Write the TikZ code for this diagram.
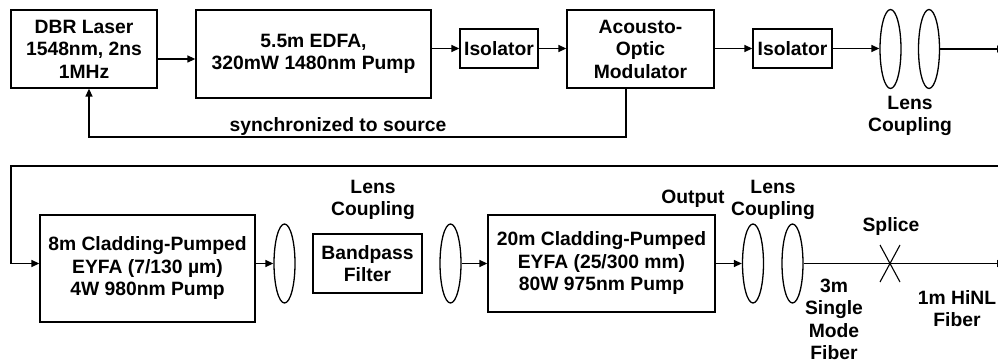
\documentclass[tikz,border=0pt]{standalone}
\usepackage{fontspec}
\setmainfont{Liberation Sans}
\usetikzlibrary{arrows.meta,shapes.geometric}
\begin{document}
\begin{tikzpicture}[x=1pt,y=-1pt,
  every node/.style={font=\fontsize{19.3}{22.5}\selectfont\bfseries, align=center, inner sep=0pt},
  box/.style={draw, line width=1.3pt, rectangle},
  lens/.style={draw, line width=1.3pt, ellipse, minimum width=21pt, minimum height=79pt},
  arr/.style={line width=1.3pt, -{Triangle[length=8pt,width=7pt]}},
  ln/.style={line width=1.3pt}]
\clip (0,0) rectangle (998,363);
% ---------- top row ----------
\node[box, minimum width=146pt, minimum height=78pt] (dbr) at (84,49) {DBR Laser\\1548nm, 2ns\\1MHz};
\node[box, minimum width=235pt, minimum height=88pt] (edfa) at (313.5,54) {5.5m EDFA,\\320mW 1480nm Pump};
\node[box, minimum width=78pt, minimum height=39pt] (iso1) at (499,48.5) {Isolator};
\node[box, minimum width=147pt, minimum height=78pt] (aom) at (640.5,49) {Acousto-\\Optic\\Modulator};
\node[box, minimum width=79pt, minimum height=39pt] (iso2) at (792.5,48.5) {Isolator};
\node[lens] (l1) at (890.5,49) {};
\node[lens] (l2) at (929,49) {};
\node (lc1) at (910,116) {Lens\\Coupling};
\coordinate (e1) at (1005,0);
\coordinate (fb) at (89,137);

\draw[arr] ([yshift=-10pt]dbr.east) -- ([yshift=-10pt]dbr.east -| edfa.west);
\draw[arr] (iso1.west -| edfa.east) -- (iso1.west);
\draw[arr] (iso1.east) -- (iso1.east -| aom.west);
\draw[arr] (aom.east |- iso2.west) -- (iso2.west);
\draw[arr] (iso2.east) -- (iso2.east -| l1.west);
\draw[arr] (l2.east) -- (l2.east -| e1);
\draw[arr] ([xshift=-14.5pt]aom.south) |- (fb) -- (fb |- dbr.south);
\node (sync) at (338,127) {synchronized to source};

% ---------- bottom row ----------
\coordinate (wr) at (998,166);
\coordinate (wl) at (11,166);
\coordinate (r2) at (0,263.5);
\node[box, minimum width=215pt, minimum height=107pt] (cp8) at (147.5,268.5) {8m Cladding-Pumped\\EYFA (7/130 µm)\\4W 980nm Pump};
\node[lens] (l3) at (284.5,263.5) {};
\node[box, minimum width=109pt, minimum height=59pt] (bp) at (367.5,263.5) {Bandpass\\Filter};
\node[lens] (l4) at (450.5,263.5) {};
\node[box, minimum width=227pt, minimum height=97pt] (cp20) at (601.5,263.5) {20m Cladding-Pumped\\EYFA (25/300 mm)\\80W 975nm Pump};
\node[lens] (l5) at (753,263.5) {};
\node[lens] (l6) at (792.5,263.5) {};

\node (lc2) at (373,200) {Lens\\Coupling};
\node (out) at (693,199) {Output};
\node (lc3) at (773,200) {Lens\\Coupling};
\node (spl) at (891,227) {Splice};
\node (smf) at (834,319.5) {3m\\Single\\Mode\\Fiber};
\node (hinl) at (957,308.5) {1m HiNL\\Fiber};

\draw[arr] (wr) -- (wl) |- (cp8.west |- r2);
\draw[arr] (cp8.east |- r2) -- (l3.west);
\draw[arr] (l4.east) -- (cp20.west |- r2);
\draw[arr] (cp20.east |- r2) -- (l5.west);
\draw[arr] (l6.east) -- (l6.east -| e1);
\coordinate (sx) at (890,263.5);
\draw[line width=1.1pt] ([shift={(-10,-18.5)}]sx) -- ([shift={(10,18.5)}]sx)
                        ([shift={(10,-18.5)}]sx) -- ([shift={(-10,18.5)}]sx);
\end{tikzpicture}
\end{document}
